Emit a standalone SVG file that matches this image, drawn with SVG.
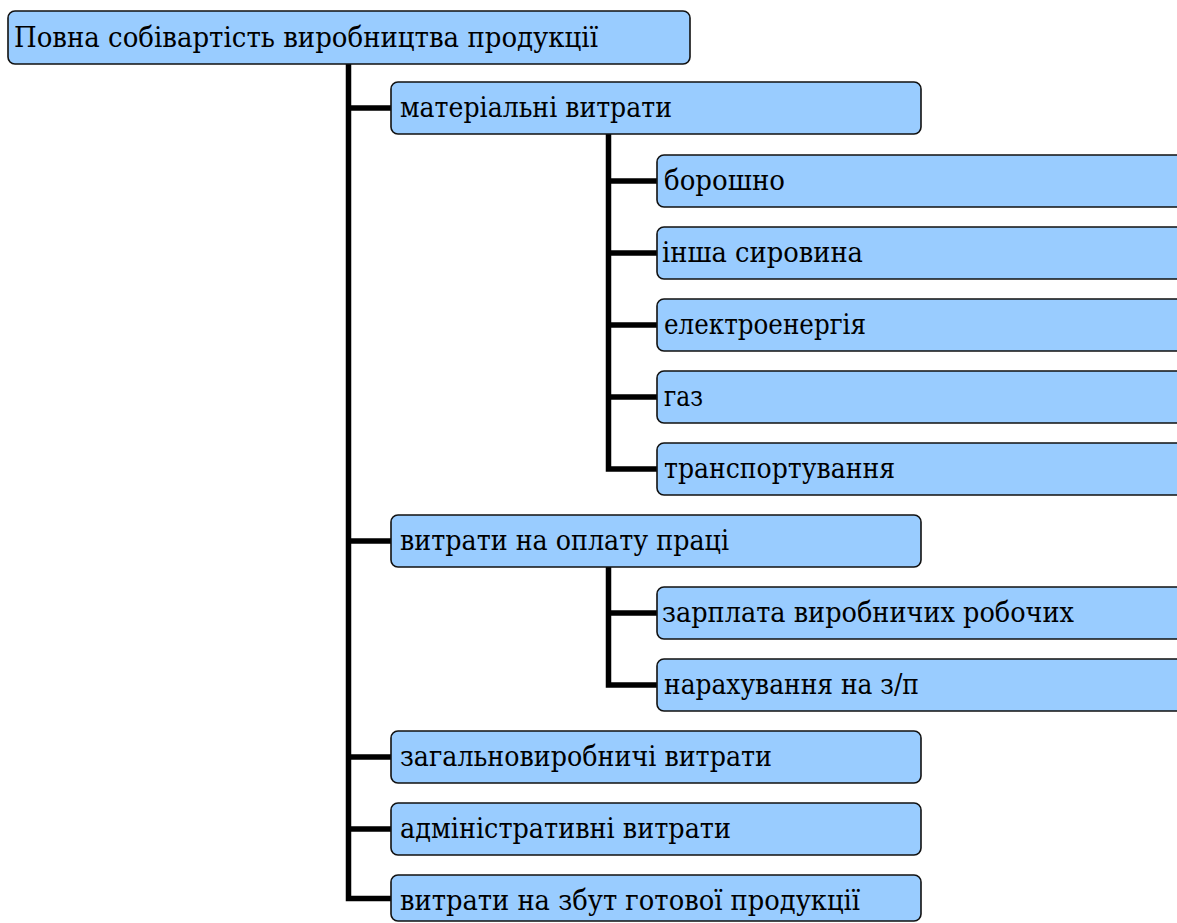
<svg xmlns="http://www.w3.org/2000/svg" width="1177" height="923" viewBox="0 0 1177 923">
<style>
.box{fill:#99CCFF;stroke:#111;stroke-width:1.6}
.t{font-family:"DejaVu Serif","Liberation Serif",serif;font-size:27.5px;fill:#000}
.c{stroke:#000;stroke-width:5.5;fill:none;stroke-linejoin:miter}
</style>
<rect width="1177" height="923" fill="#fff"/>
<g id="connectors">
<path class="c" d="M348.5 64 V898.5 H392 M348.5 108 H392 M348.5 541 H392 M348.5 757 H392 M348.5 829 H392"/>
<path class="c" d="M608.5 134 V469 H658 M608.5 181 H658 M608.5 253 H658 M608.5 325 H658 M608.5 397 H658"/>
<path class="c" d="M608.5 567 V685 H658 M608.5 613 H658"/>
</g>
<g id="root"><rect class="box" x="8" y="11" width="682" height="53" rx="7"/><text class="t" x="14" y="47" textLength="584" lengthAdjust="spacingAndGlyphs">Повна собівартість виробництва продукції</text></g>
<g id="n1"><rect class="box" x="391" y="82" width="530" height="52" rx="7"/><text class="t" x="400" y="117" textLength="272" lengthAdjust="spacingAndGlyphs">матеріальні витрати</text></g>
<g id="n1a"><rect class="box" x="657" y="155" width="530" height="52" rx="7"/><text class="t" x="664" y="190" textLength="121" lengthAdjust="spacingAndGlyphs">борошно</text></g>
<g id="n1b"><rect class="box" x="657" y="227" width="530" height="52" rx="7"/><text class="t" x="662" y="262" textLength="201" lengthAdjust="spacingAndGlyphs">інша сировина</text></g>
<g id="n1c"><rect class="box" x="657" y="299" width="530" height="52" rx="7"/><text class="t" x="664" y="334" textLength="202" lengthAdjust="spacingAndGlyphs">електроенергія</text></g>
<g id="n1d"><rect class="box" x="657" y="371" width="530" height="52" rx="7"/><text class="t" x="664" y="406" textLength="39" lengthAdjust="spacingAndGlyphs">газ</text></g>
<g id="n1e"><rect class="box" x="657" y="443" width="530" height="52" rx="7"/><text class="t" x="664" y="478" textLength="231" lengthAdjust="spacingAndGlyphs">транспортування</text></g>
<g id="n2"><rect class="box" x="391" y="515" width="530" height="52" rx="7"/><text class="t" x="400" y="550" textLength="329" lengthAdjust="spacingAndGlyphs">витрати на оплату праці</text></g>
<g id="n2a"><rect class="box" x="657" y="587" width="530" height="52" rx="7"/><text class="t" x="662" y="622" textLength="412" lengthAdjust="spacingAndGlyphs">зарплата виробничих робочих</text></g>
<g id="n2b"><rect class="box" x="657" y="659" width="530" height="52" rx="7"/><text class="t" x="664" y="694" textLength="255" lengthAdjust="spacingAndGlyphs">нарахування на з/п</text></g>
<g id="n3"><rect class="box" x="391" y="731" width="530" height="52" rx="7"/><text class="t" x="400" y="766" textLength="372" lengthAdjust="spacingAndGlyphs">загальновиробничі витрати</text></g>
<g id="n4"><rect class="box" x="391" y="803" width="530" height="52" rx="7"/><text class="t" x="400" y="838" textLength="331" lengthAdjust="spacingAndGlyphs">адміністративні витрати</text></g>
<g id="n5"><rect class="box" x="391" y="875" width="530" height="46" rx="7"/><text class="t" x="400" y="910" textLength="460" lengthAdjust="spacingAndGlyphs">витрати на збут готової продукції</text></g>
</svg>
